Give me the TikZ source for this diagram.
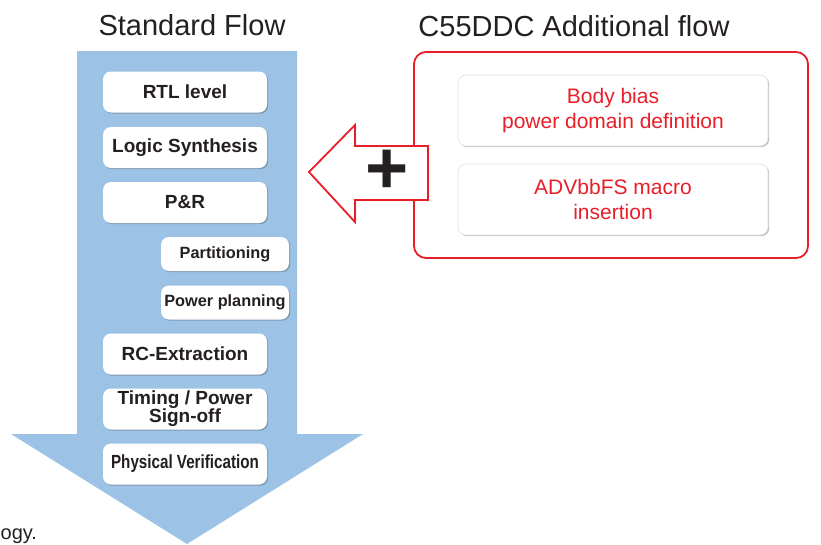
\documentclass[tikz,border=0pt]{standalone}
\usepackage{fontspec}
\setmainfont{Liberation Sans}
\usetikzlibrary{shadows}
\definecolor{FlowClr}{rgb}{0.612,0.765,0.902}
\definecolor{AddClr}{rgb}{0.91,0.12,0.16}
\definecolor{TextClr}{rgb}{0.14,0.12,0.13}

\tikzset{
  stepshadow/.style={drop shadow={shadow xshift=1.2pt,shadow yshift=-1.2pt,opacity=.35,fill=black!70}},
  flowbox/.style={fill=white,rounded corners=8pt,stepshadow,minimum width=164pt,minimum height=41pt,
    inner sep=1pt,align=center,text=TextClr,font=\fontsize{19}{18}\selectfont\bfseries},
  subbox/.style={flowbox,minimum width=128pt,minimum height=34pt,font=\fontsize{16.3}{16}\selectfont\bfseries},
  addbox/.style={fill=white,draw=black!12,line width=.6pt,rounded corners=8pt,stepshadow,
    minimum width=310pt,minimum height=71pt,align=center,text=AddClr,font=\fontsize{21}{25}\selectfont},
  headline/.style={text=TextClr,font=\fontsize{29}{29}\selectfont}
}

\begin{document}
\begin{tikzpicture}[x=1pt,y=-1pt]
\useasboundingbox (0,0) rectangle (821,544);

% standard flow arrow
\fill[FlowClr] (77,51) -- (297,51) -- (297,434) -- (363,434) -- (187,544)
  -- (11,434) -- (77,434) -- cycle;

\node[headline] (stdhead) at (192,25) {Standard Flow};
\node[headline] (addhead) at (574,26) {C55DDC Additional flow};

\node[flowbox] (rtl)   at (185,92)    {RTL level};
\node[flowbox] (synth) at (185,147.5) {Logic Synthesis};
\node[flowbox] (pnr)   at (185,202.5) {P\&R};
\node[subbox]  (part)  at (225,254)   {Partitioning};
\node[subbox]  (pwr)   at (225,302.5) {Power planning};
\node[flowbox] (rcx)   at (185,354)   {RC-Extraction};
\node[flowbox] (sign)  at (185,409)   {Timing / Power\\Sign-off};
\node[flowbox] (pv)    at (185,464)   {\scalebox{0.8}[1]{Physical Verification}};

% additional flow
\draw[AddClr,line width=1.8pt,rounded corners=12pt] (414,52) rectangle (808,258);
\node[addbox] (bias) at (613,110.5) {Body bias\\power domain definition};
\node[addbox] (macro) at (613,199.5) {ADVbbFS macro\\insertion};

% plus arrow
\draw[AddClr,fill=white,line width=1.8pt,stepshadow] (309,172) -- (355,125) -- (355,146)
  -- (428,146) -- (428,200) -- (355,200) -- (355,222) -- cycle;
\node[text=TextClr,font=\fontsize{74}{74}\selectfont\bfseries,inner sep=0pt] (plus) at (387,172) {+};

\node[anchor=base west,text=TextClr,font=\fontsize{20}{20}\selectfont,inner sep=0pt] (tail) at (0.5,539) {ogy.};
\end{tikzpicture}
\end{document}
